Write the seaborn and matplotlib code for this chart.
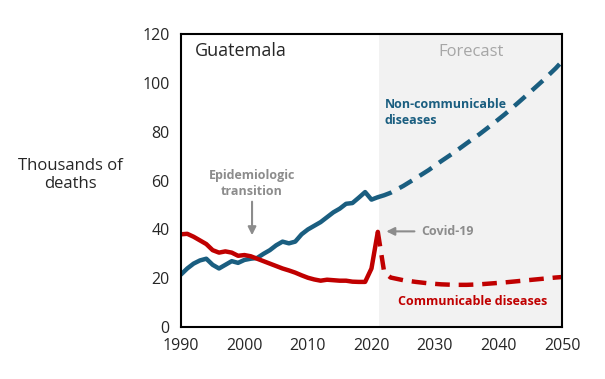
import matplotlib
matplotlib.use("Agg")
import matplotlib.pyplot as plt
import seaborn as sns
import pandas as pd

# historical estimates (thousands of deaths)
years_hist = list(range(1990, 2022))
ncd_hist = [21.5, 24, 26, 27.3, 28, 25.5, 24, 25.5, 27, 26.3, 27.5, 28, 28.3, 30, 31.5, 33.5,
            35, 34.3, 35, 38, 40, 41.5, 43, 45, 47, 48.5, 50.5, 50.8, 53, 55.3, 52.2, 53.2]
cd_hist = [38, 38.2, 37, 35.5, 34, 31.5, 30.5, 31, 30.5, 29.2, 29.5, 29, 28, 27, 26, 25,
           24, 23.2, 22.3, 21.2, 20.2, 19.5, 19, 19.4, 19.2, 19, 19, 18.6, 18.5, 18.5, 24, 39]

# forecast
years_fc = [2021, 2022, 2023, 2025, 2027, 2029, 2031, 2033, 2035, 2037, 2039, 2041, 2043,
            2045, 2047, 2049, 2050]
ncd_fc = [53.2, 54, 55, 57.8, 61, 64.3, 68, 71.5, 75.3, 79, 83, 87.2, 91.7, 96.3, 101, 106, 108.8]
cd_fc = [39, 22.5, 20.3, 19.2, 18.5, 17.9, 17.5, 17.3, 17.3, 17.5, 17.9, 18.3, 18.8, 19.3,
         19.8, 20.3, 20.5]

blue = "#1a5e80"
red = "#c00000"
grey = "#8c8c8c"

hist = pd.DataFrame({"year": years_hist, "ncd": ncd_hist, "cd": cd_hist})
fc = pd.DataFrame({"year": years_fc, "ncd": ncd_fc, "cd": cd_fc})

sns.set_style("white")
plt.rcParams["font.family"] = ["Open Sans", "DejaVu Sans"]

fig = plt.figure(figsize=(6.05, 3.79), dpi=100)
ax = fig.add_axes([0.299, 0.137, 0.63, 0.773])

ax.axvspan(2021.2, 2050, color="#f2f2f2", zorder=0, lw=0)

sns.lineplot(data=hist, x="year", y="ncd", color=blue, lw=3.2, ax=ax)
sns.lineplot(data=hist, x="year", y="cd", color=red, lw=3.2, ax=ax)
sns.lineplot(data=fc, x="year", y="ncd", color=blue, lw=3.2, ax=ax)
sns.lineplot(data=fc, x="year", y="cd", color=red, lw=3.2, ax=ax)
for line in ax.lines[2:]:
    line.set_dashes([3.3, 2])

ax.set_xlim(1990, 2050)
ax.set_ylim(0, 120)
ax.set_xticks([1990, 2000, 2010, 2020, 2030, 2040, 2050])
ax.set_yticks(range(0, 121, 20))
ax.tick_params(labelsize=11.5, length=0, pad=8)
ax.set_xlabel("")
ax.set_ylabel("Thousands of\ndeaths", rotation=0, fontsize=12, va="center", ha="center")
ax.yaxis.set_label_coords(-0.29, 0.52)
for s in ax.spines.values():
    s.set_color("black")
    s.set_linewidth(1.5)

ax.text(1992.2, 113, "Guatemala", fontsize=13, va="center")
ax.text(2035.7, 112.5, "Forecast", fontsize=12, color="#a6a6a6", ha="center", va="center")
ax.text(2001.2, 59, "Epidemiologic\ntransition", fontsize=9, fontweight="bold",
        color=grey, ha="center", va="center", linespacing=1.3)
ax.annotate("", xy=(2001.2, 36.5), xytext=(2001.2, 52.5),
            arrowprops=dict(arrowstyle="-|>", color=grey, lw=1.5, mutation_scale=12))
ax.annotate("", xy=(2021.9, 39.2), xytext=(2027.2, 39.2),
            arrowprops=dict(arrowstyle="-|>", color=grey, lw=1.5, mutation_scale=12))
ax.text(2027.8, 39.2, "Covid-19", fontsize=9, fontweight="bold", color=grey, va="center")
ax.text(2022.1, 88, "Non-communicable\ndiseases", fontsize=9, fontweight="bold",
        color=blue, va="center", linespacing=1.3)
ax.text(2036, 10.5, "Communicable diseases", fontsize=9, fontweight="bold",
        color=red, ha="center", va="center")

fig.savefig("out.png", dpi=100)
